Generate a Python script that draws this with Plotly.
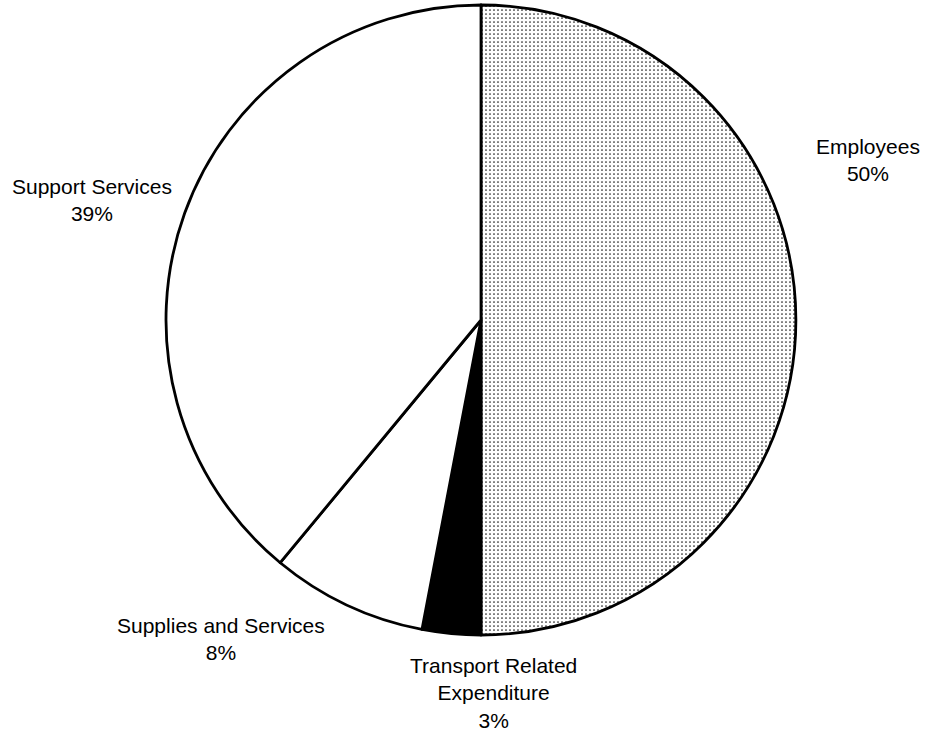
import plotly.graph_objects as go

# Expenditure breakdown (percent of total)
categories = ["Employees", "Transport Related<br>Expenditure", "Supplies and Services", "Support Services"]
shares = [50, 3, 8, 39]
slice_colors = ["white", "black", "white", "white"]
slice_patterns = [".", "", "", ""]

W, H = 925, 734

# pie geometry in pixels (centre and radius)
cx, cy, r = 481, 320, 315

fig = go.Figure(
    go.Pie(
        labels=categories,
        values=shares,
        sort=False,
        direction="clockwise",
        rotation=0,
        textinfo="none",
        hoverinfo="label+percent",
        showlegend=False,
        marker=dict(
            colors=slice_colors,
            line=dict(color="black", width=2.8),
            pattern=dict(
                shape=slice_patterns,
                fgcolor="#222222",
                bgcolor="white",
                size=4,
                solidity=0.15,
            ),
        ),
        domain=dict(
            x=[(cx - r) / W, (cx + r) / W],
            y=[1 - (cy + r) / H, 1 - (cy - r) / H],
        ),
    )
)

# label centres in pixels, one per category
label_pos = [(868, 160), (493, 693), (221, 639), (92, 200)]

for name, val, (lx, ly) in zip(categories, shares, label_pos):
    fig.add_annotation(
        x=lx / W,
        y=1 - ly / H,
        xref="paper",
        yref="paper",
        text=f"{name}<br>{val}%",
        showarrow=False,
        xanchor="center",
        yanchor="middle",
        align="center",
        borderpad=0,
        font=dict(family="Liberation Sans, Arial, sans-serif", size=21, color="black"),
    )

fig.update_layout(
    width=W,
    height=H,
    margin=dict(l=0, r=0, t=0, b=0),
    paper_bgcolor="white",
    plot_bgcolor="white",
)

fig.write_html("out.html")
